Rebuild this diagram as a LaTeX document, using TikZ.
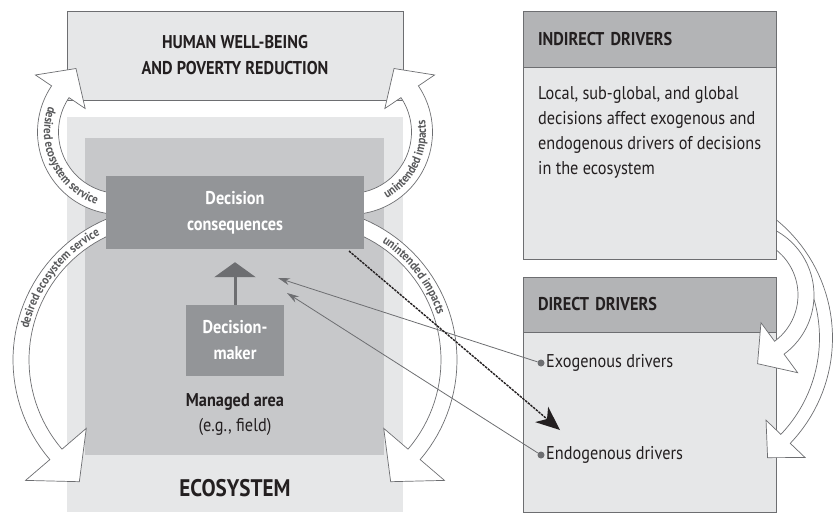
\documentclass[tikz,border=0pt]{standalone}
\usepackage{fontspec}
\setmainfont{PT Sans}[FakeStretch=0.88]
\usetikzlibrary{arrows.meta,decorations.text}

\definecolor{paper}{HTML}{E6E7E8}
\definecolor{areagray}{HTML}{C7C8CA}
\definecolor{boxgray}{HTML}{939598}
\definecolor{headgray}{HTML}{B3B4B6}
\definecolor{linegray}{HTML}{6D6E71}
\definecolor{inkgray}{HTML}{58595B}
\definecolor{ink}{HTML}{231F20}

\newcommand{\arcfont}{\fontsize{12.5}{14}\selectfont\bfseries}
\newcommand{\bandarrow}[9]{\draw[band] plot[domain=#4:#5,samples=40] ({#1+(#3+#6)*cos(\x)},{#2+(#3+#6)*sin(\x)})
    -- ({#1+(#3+#7)*cos(#5)},{#2+(#3+#7)*sin(#5)})
    -- ({#1+#3*cos(#5)+#8*cos(#9)},{#2+#3*sin(#5)+#8*sin(#9)})
    -- ({#1+(#3-#7)*cos(#5)},{#2+(#3-#7)*sin(#5)})
    -- plot[domain=#5:#4,samples=40] ({#1+(#3-#6)*cos(\x)},{#2+(#3-#6)*sin(\x)}) -- cycle;}
\newcommand{\arctext}[6]{\path[decorate,decoration={text along path,text align=center,
    text={|\arcfont\color{inkgray}|#6}}] plot[domain=#4:#5,samples=60] ({#1+#3*cos(\x)},{#2+#3*sin(\x)});}

\begin{document}
\begin{tikzpicture}[x=1pt,y=-1pt,
    panel/.style={draw=linegray,fill=paper,line width=0.8pt,inner sep=0pt},
    header/.style={panel,fill=headgray,text=ink,font=\fontsize{18.5}{24}\selectfont\bfseries,text width=223pt,align=left},
    darkbox/.style={fill=boxgray,text=white,inner sep=0pt,align=center,font=\fontsize{18.5}{26}\selectfont\bfseries},
    bodytext/.style={text=ink,inner sep=0pt,align=left,font=\fontsize{18.5}{25}\selectfont},
    bullet/.style={circle,fill=linegray,inner sep=0pt,minimum size=7pt},
    band/.style={draw=linegray,fill=white,line width=0.7pt},
    pointer/.style={linegray,line width=0.8pt,-{Stealth[length=12pt,width=7pt]}},
    impact/.style={ink,line width=1.4pt,dash pattern=on 2.5pt off 1pt,-{Stealth[length=24pt,width=20pt,inset=7pt]}},
    lift/.style={linegray,line width=3pt,-{Triangle[length=15pt,width=41pt]}}]
    \useasboundingbox (0,0) rectangle (833,515);

    \node[panel,text=ink,align=center,font=\fontsize{18.5}{26}\selectfont\bfseries,
        minimum width=336pt,minimum height=89pt] (hwb) at (235,55.5) {HUMAN WELL-BEING\\AND POVERTY REDUCTION};
    \node[fill=paper,inner sep=0pt,minimum width=336pt,minimum height=395pt] (eco) at (235,314.5) {};
    \node[fill=areagray,inner sep=0pt,minimum width=299pt,minimum height=317pt] (area) at (234.5,296.5) {};
    \node[text=ink,font=\fontsize{24}{28}\selectfont\bfseries] (ecolabel) at (235,488) {ECOSYSTEM};
    \node[bodytext,align=center] (arealabel) at (235,415) {\textbf{Managed area}\\(e.g., field)};

    \bandarrow{120}{132}{72}{95}{214}{10.5}{30}{28}{304}
    \bandarrow{350}{132}{72}{85}{-34}{10.5}{30}{28}{-124}
    \bandarrow{166}{360}{145}{250}{139.4}{8}{40}{36}{49.4}
    \bandarrow{304}{360}{145}{-70}{40.6}{8}{40}{36}{130.6}
    \arctext{120}{132}{76}{208}{100}{desired ecosystem service}
    \arctext{350}{132}{76}{80}{-28}{unintended impacts}
    \arctext{166}{360}{141}{185}{250}{desired ecosystem service}
    \arctext{304}{360}{141}{-70}{-5}{unintended impacts}

    \node[darkbox,minimum width=258pt,minimum height=73pt] (dc) at (235,212.5) {Decision\\consequences};
    \node[darkbox,minimum width=98pt,minimum height=71pt] (dm) at (235,340.5) {Decision-\\maker};
    \draw[lift,shorten >=13pt] (dm) -- (dc);

    \node[panel,minimum width=253pt,minimum height=235pt] (direct) at (649.5,394.5) {};
    \node[header,minimum width=253pt,minimum height=55pt] (dirhead) at (649.5,304.5) {DIRECT DRIVERS};
    \node[bullet] (exo) at (541,363) {};
    \node[bodytext,anchor=west] (exolabel) at (546,363) {Exogenous drivers};
    \node[bullet] (endo) at (541,455) {};
    \node[bodytext,anchor=west] (endolabel) at (546,455) {Endogenous drivers};

    \bandarrow{680}{338}{146}{-55}{43.7}{6.5}{27}{26}{133.7}
    \bandarrow{740.6}{295}{65.4}{-65}{53.7}{8}{31}{27}{143.7}

    \node[panel,minimum width=253pt,minimum height=248pt] (indirect) at (649.5,135) {};
    \node[header,minimum width=253pt,minimum height=56pt] (indhead) at (649.5,39) {INDIRECT DRIVERS};
    \node[bodytext,anchor=north west] (indtext) at (538,86) {Local, sub-global, and global\\decisions affect exogenous and\\endogenous drivers of decisions\\in the ecosystem};

    \coordinate (exoend) at (278,278);
    \coordinate (endoend) at (287,293);
    \coordinate (impstart) at (349,251);
    \coordinate (impend) at (560,430);
    \draw[pointer] (exo) -- (exoend);
    \draw[pointer] (endo) -- (endoend);
    \draw[impact] (impstart) -- (impend);
\end{tikzpicture}
\end{document}
